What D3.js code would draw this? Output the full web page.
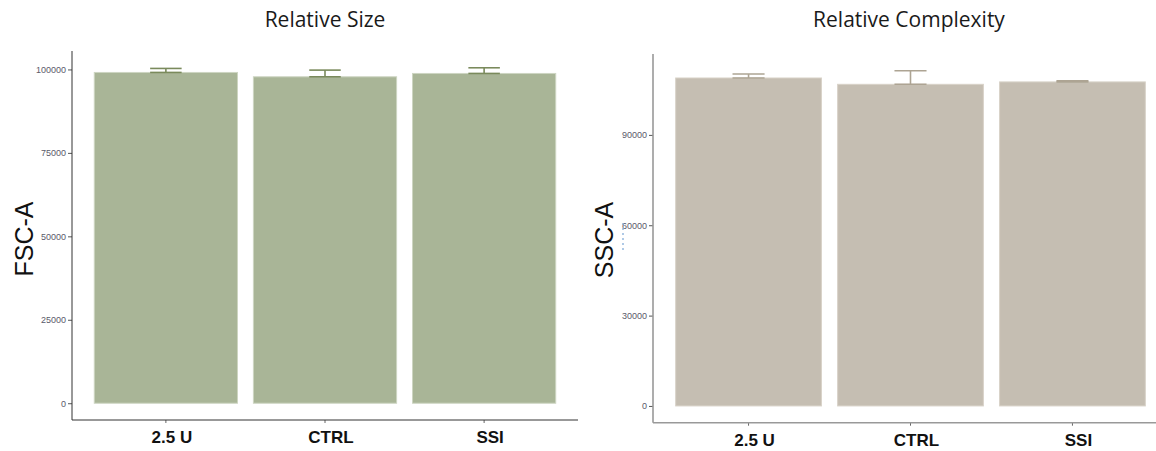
<!DOCTYPE html>
<html>
<head>
<meta charset="utf-8">
<script src="https://cdn.jsdelivr.net/npm/d3@7/dist/d3.min.js"></script>
<style>
  html, body { margin: 0; padding: 0; background: #fff; }
  svg { display: block; }
</style>
</head>
<body>
<svg id="chart" width="1156" height="451"></svg>
<script>
// Groups shared by both panels
const categories = ["2.5 U", "CTRL", "SSI"];

// Forward scatter (relative size): group means and error amounts
const sizeMeans = [99100, 97800, 98800];
const sizeErrors = [1200, 2000, 1700];
const sizeTicks = [0, 25000, 50000, 75000, 100000];

// Side scatter (relative complexity): group means and error amounts
const complexityMeans = [108900, 106800, 107600];
const complexityErrors = [1300, 4500, 400];
const complexityTicks = [0, 30000, 60000, 90000];

const svg = d3.select("#chart");

function drawPanel(opts) {
  const g = svg.append("g");
  const maxTop = d3.max(opts.means, (m, i) => m + opts.errors[i]);

  const x = d3.scaleBand()
    .domain(categories)
    .range([opts.left, opts.right])
    .paddingInner(0.1)
    .paddingOuter(0.14);

  // 5% expansion on both ends of the value range
  const y = d3.scaleLinear()
    .domain([-0.05 * maxTop, 1.05 * maxTop])
    .range([opts.bottom, opts.top]);

  const rows = categories.map((c, i) => ({ cat: c, mean: opts.means[i], err: opts.errors[i] }));

  // bars
  g.selectAll("rect.bar").data(rows).join("rect")
    .attr("class", "bar")
    .attr("x", d => x(d.cat))
    .attr("width", x.bandwidth())
    .attr("y", d => y(d.mean))
    .attr("height", d => y(0) - y(d.mean))
    .attr("fill", opts.fill)
    .attr("stroke", opts.barStroke)
    .attr("stroke-width", 1);

  // error bars (mean up to mean + error)
  const capHalf = x.bandwidth() * 0.11;
  const eb = g.selectAll("g.eb").data(rows).join("g").attr("class", "eb")
    .attr("stroke", opts.errColor)
    .attr("stroke-width", 1.6)
    .attr("fill", "none");
  eb.append("line")
    .attr("x1", d => x(d.cat) + x.bandwidth() / 2)
    .attr("x2", d => x(d.cat) + x.bandwidth() / 2)
    .attr("y1", d => y(d.mean))
    .attr("y2", d => y(d.mean + d.err));
  eb.append("line")
    .attr("x1", d => x(d.cat) + x.bandwidth() / 2 - capHalf)
    .attr("x2", d => x(d.cat) + x.bandwidth() / 2 + capHalf)
    .attr("y1", d => y(d.mean + d.err))
    .attr("y2", d => y(d.mean + d.err));
  eb.append("line")
    .attr("x1", d => x(d.cat) + x.bandwidth() / 2 - capHalf)
    .attr("x2", d => x(d.cat) + x.bandwidth() / 2 + capHalf)
    .attr("y1", d => y(d.mean))
    .attr("y2", d => y(d.mean));

  // y axis
  const yAxis = g.append("g")
    .attr("transform", `translate(${opts.left},0)`)
    .call(d3.axisLeft(y).tickValues(opts.ticks).tickFormat(d3.format("d")).tickSize(4).tickPadding(2));
  yAxis.select(".domain").remove();
  yAxis.selectAll(".tick line").attr("stroke", "#555");
  yAxis.selectAll(".tick text")
    .attr("fill", "#5a5a6a")
    .style("font-family", "'Liberation Sans', Arial, sans-serif")
    .style("font-size", "9px");
  g.append("line")
    .attr("x1", opts.left).attr("x2", opts.left)
    .attr("y1", opts.top).attr("y2", opts.bottom)
    .attr("stroke", opts.axisColor).attr("stroke-width", opts.axisWidth);

  // x axis
  const xAxis = g.append("g")
    .attr("transform", `translate(0,${opts.bottom})`)
    .call(d3.axisBottom(x).tickSize(3).tickPadding(8));
  xAxis.select(".domain").remove();
  xAxis.selectAll(".tick line").attr("stroke", "#666");
  xAxis.selectAll(".tick text")
    .attr("fill", "#111")
    .attr("dx", 6)
    .style("font-family", "'Liberation Sans', Arial, sans-serif")
    .style("font-weight", "bold")
    .style("font-size", "17px");
  g.append("line")
    .attr("x1", opts.left).attr("x2", opts.right)
    .attr("y1", opts.bottom).attr("y2", opts.bottom)
    .attr("stroke", opts.axisColor).attr("stroke-width", opts.axisWidth);

  // panel title
  g.append("text")
    .attr("x", opts.titleX).attr("y", 27)
    .attr("text-anchor", "middle")
    .attr("fill", "#1a1a1a")
    .style("font-family", "'Open Sans', sans-serif")
    .style("font-size", "21px")
    .text(opts.title);

  // y axis title
  g.append("text")
    .attr("transform", `translate(${opts.yTitleX},${opts.yTitleY}) rotate(-90)`)
    .attr("text-anchor", "middle")
    .attr("fill", "#111")
    .style("font-family", "'Liberation Sans', Arial, sans-serif")
    .style("font-size", "25px")
    .text(opts.yTitle);

  return g;
}

drawPanel({
  means: sizeMeans, errors: sizeErrors, ticks: sizeTicks,
  left: 72, right: 578, top: 51, bottom: 420,
  fill: "#a9b597", barStroke: "#cdd5c2", errColor: "#7a8a5c",
  axisColor: "#333", axisWidth: 1,
  title: "Relative Size", titleX: 325,
  yTitle: "FSC-A", yTitleX: 33, yTitleY: 239
});

drawPanel({
  means: complexityMeans, errors: complexityErrors, ticks: complexityTicks,
  left: 653, right: 1168, top: 54, bottom: 422.7,
  fill: "#c5beb2", barStroke: "#d8d2c8", errColor: "#ada493",
  axisColor: "#999", axisWidth: 1.6,
  title: "Relative Complexity", titleX: 909,
  yTitle: "SSC-A", yTitleX: 613, yTitleY: 240
});

// small dashed marker beside the 60000 tick
svg.append("line")
  .attr("x1", 623).attr("x2", 623)
  .attr("y1", 223).attr("y2", 252)
  .attr("stroke", "#7aa6d6").attr("stroke-width", 1.2)
  .attr("stroke-dasharray", "2,3");
</script>
</body>
</html>
